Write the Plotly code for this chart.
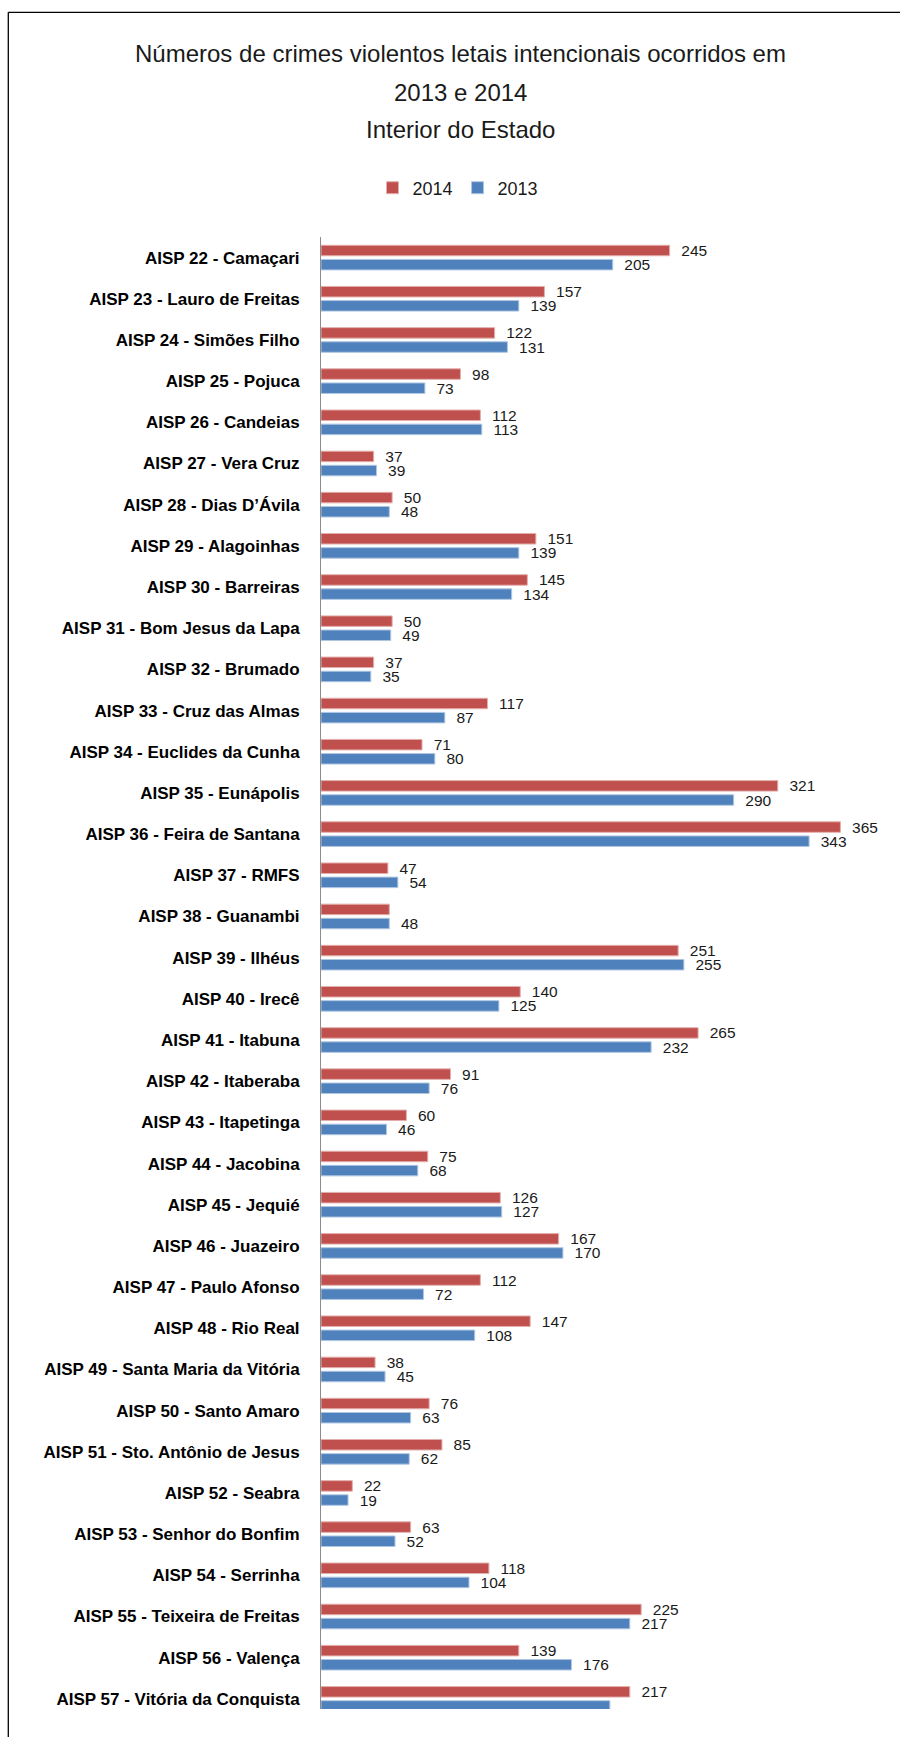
import plotly.graph_objects as go

categories = [
    "AISP 22 - Camaçari", "AISP 23 - Lauro de Freitas", "AISP 24 - Simões Filho",
    "AISP 25 - Pojuca", "AISP 26 - Candeias", "AISP 27 - Vera Cruz",
    "AISP 28 - Dias D’Ávila", "AISP 29 - Alagoinhas", "AISP 30 - Barreiras",
    "AISP 31 - Bom Jesus da Lapa", "AISP 32 - Brumado", "AISP 33 - Cruz das Almas",
    "AISP 34 - Euclides da Cunha", "AISP 35 - Eunápolis", "AISP 36 - Feira de Santana",
    "AISP 37 - RMFS", "AISP 38 - Guanambi", "AISP 39 - Ilhéus", "AISP 40 - Irecê",
    "AISP 41 - Itabuna", "AISP 42 - Itaberaba", "AISP 43 - Itapetinga",
    "AISP 44 - Jacobina", "AISP 45 - Jequié", "AISP 46 - Juazeiro",
    "AISP 47 - Paulo Afonso", "AISP 48 - Rio Real", "AISP 49 - Santa Maria da Vitória",
    "AISP 50 - Santo Amaro", "AISP 51 - Sto. Antônio de Jesus", "AISP 52 - Seabra",
    "AISP 53 - Senhor do Bonfim", "AISP 54 - Serrinha", "AISP 55 - Teixeira de Freitas",
    "AISP 56 - Valença", "AISP 57 - Vitória da Conquista",
]
values_2014 = [245, 157, 122, 98, 112, 37, 50, 151, 145, 50, 37, 117, 71, 321, 365,
               47, 48, 251, 140, 265, 91, 60, 75, 126, 167, 112, 147, 38, 76, 85,
               22, 63, 118, 225, 139, 217]
values_2013 = [205, 139, 131, 73, 113, 39, 48, 139, 134, 49, 35, 87, 80, 290, 343,
               54, 48, 255, 125, 232, 76, 46, 68, 127, 170, 72, 108, 45, 63, 62,
               19, 52, 104, 217, 176, 203]
# labels not printed in the original picture
hidden_2014 = ["AISP 38 - Guanambi"]
hidden_2013 = ["AISP 57 - Vitória da Conquista"]

title_lines = ["Números de crimes violentos letais intencionais ocorridos em",
               "2013 e 2014", "Interior do Estado"]

RED = "#C0504D"
BLUE = "#4F81BD"
FONT = "Liberation Sans"

# page geometry (pixels)
FW, FH = 900, 1737
L, R, T, B = 321, 0, 237, 28
W, H = FW - L - R, FH - T - B
CAT_PX = 41.18
PX_PER_UNIT = 1.423


def px_x(px):
    return (px - L) / W


def px_y(py):
    return (FH - B - py) / H


def labels(vals, hidden):
    out = []
    for c, v in zip(categories, vals):
        out.append("" if c in hidden else "\u00a0\u00a0" + str(v))
    return out


fig = go.Figure()
fig.add_trace(go.Bar(
    name="2014", y=categories, x=values_2014, orientation="h",
    marker=dict(color=RED, line=dict(color="#E3AFAD", width=1)),
    text=labels(values_2014, hidden_2014), textposition="outside",
    constraintext="none", cliponaxis=False,
    textfont=dict(family=FONT, size=15.5, color="#1a1a1a"),
))
fig.add_trace(go.Bar(
    name="2013", y=categories, x=values_2013, orientation="h",
    marker=dict(color=BLUE, line=dict(color="#AFC6E2", width=1)),
    text=labels(values_2013, hidden_2013), textposition="outside",
    constraintext="none", cliponaxis=False,
    textfont=dict(family=FONT, size=15.5, color="#1a1a1a"),
))

y_top = -0.5
y_bottom = -0.5 + H / CAT_PX

annotations = []
for text, ypx in zip(title_lines, [53, 92, 130]):
    annotations.append(dict(
        text=text, xref="paper", yref="paper", x=px_x(460), y=px_y(ypx),
        xanchor="center", yanchor="middle", showarrow=False,
        font=dict(family=FONT, size=24, color="#1a1a1a"),
    ))

shapes = [
    dict(type="line", xref="paper", yref="paper", x0=px_x(8.3), x1=px_x(8.3),
         y0=px_y(12.3), y1=px_y(FH + 10), line=dict(color="black", width=1.3)),
    dict(type="line", xref="paper", yref="paper", x0=px_x(8.3), x1=px_x(FW + 10),
         y0=px_y(12.3), y1=px_y(12.3), line=dict(color="black", width=1.3)),
]

fig.update_layout(
    width=FW, height=FH,
    margin=dict(l=L, r=R, t=T, b=B, autoexpand=False),
    paper_bgcolor="white", plot_bgcolor="white",
    barmode="group", bargap=0.313, bargroupgap=0.258,
    showlegend=True,
    legend=dict(orientation="h", x=px_x(458), y=px_y(188), xanchor="center",
                yanchor="middle", font=dict(family=FONT, size=18, color="#1a1a1a"),
                bgcolor="rgba(0,0,0,0)", traceorder="normal"),
    annotations=annotations,
    shapes=shapes,
    xaxis=dict(visible=False, range=[0, W / PX_PER_UNIT], fixedrange=True),
    yaxis=dict(
        type="category", categoryorder="array", categoryarray=categories,
        range=[y_bottom, y_top], showline=True, linecolor="#8C8C8C", linewidth=1,
        showgrid=False, zeroline=False, ticks="", ticklabelstandoff=17,
        tickfont=dict(family=FONT, size=17, color="black", weight="bold"),
    ),
    font=dict(family=FONT),
)

fig.write_html("out.html")
